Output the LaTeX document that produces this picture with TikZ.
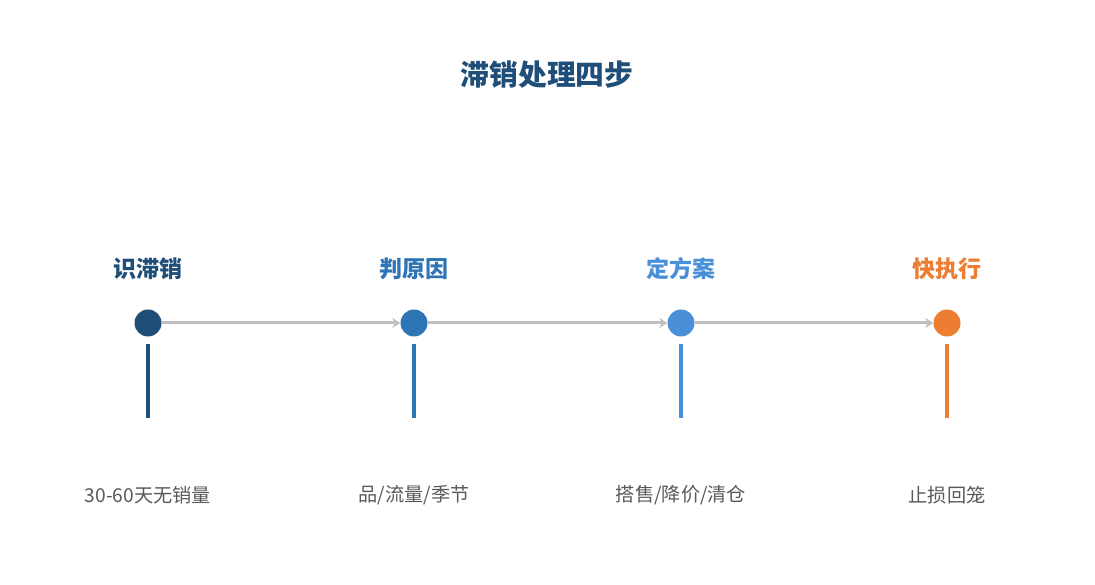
\documentclass[tikz,border=0pt]{standalone}
\usepackage{fontspec}
\usepackage{xcolor}
\usepackage{tikz}
\usetikzlibrary{arrows.meta}
\newfontfamily\cjk{Noto Sans CJK SC}
\definecolor{stepA}{HTML}{1F4E79}
\definecolor{stepB}{HTML}{2E75B6}
\definecolor{stepC}{HTML}{4A90D9}
\definecolor{stepD}{HTML}{ED7D31}
\definecolor{flowgray}{HTML}{BFBFBF}
\definecolor{notegray}{HTML}{595959}

\begin{document}
\begin{tikzpicture}[x=1pt,y=1pt,
    dotnode/.style={shape=circle, inner sep=0pt, minimum size=27pt},
    head/.style={font=\cjk\bfseries\fontsize{23}{27}\selectfont},
    note/.style={font=\cjk\fontsize{19.2}{23}\selectfont, text=notegray},
    flow/.style={draw=flowgray, line width=3pt, -{Stealth[length=8pt,width=10pt]}},
    stem/.style={line width=3.5pt}]
    \useasboundingbox (0,0) rectangle (1095,585);

    \node[font=\cjk\bfseries\fontsize{28.8}{33}\selectfont, text=stepA] (title) at (547,510) {滞销处理四步};

    \node[dotnode, fill=stepA] (s1) at (148,262) {};
    \node[dotnode, fill=stepB] (s2) at (414,262) {};
    \node[dotnode, fill=stepC] (s3) at (681,262) {};
    \node[dotnode, fill=stepD] (s4) at (947,262) {};

    \draw[flow] (s1) -- (s2);
    \draw[flow] (s2) -- (s3);
    \draw[flow] (s3) -- (s4);

    \node[head, text=stepA] (h1) at (148,316) {识滞销};
    \node[head, text=stepB] (h2) at (414,316) {判原因};
    \node[head, text=stepC] (h3) at (681,316) {定方案};
    \node[head, text=stepD] (h4) at (947,316) {快执行};

    \coordinate (t1) at (148,241); \coordinate (b1) at (148,167);
    \coordinate (t2) at (414,241); \coordinate (b2) at (414,167);
    \coordinate (t3) at (681,241); \coordinate (b3) at (681,167);
    \coordinate (t4) at (947,241); \coordinate (b4) at (947,167);
    \draw[stem, stepA] (t1) -- (b1);
    \draw[stem, stepB] (t2) -- (b2);
    \draw[stem, stepC] (t3) -- (b3);
    \draw[stem, stepD] (t4) -- (b4);

    \node[note] (n1) at (148,90) {30-60天无销量};
    \node[note] (n2) at (414,90) {品/流量/季节};
    \node[note] (n3) at (681,90) {搭售/降价/清仓};
    \node[note] (n4) at (947,90) {止损回笼};
\end{tikzpicture}
\end{document}
